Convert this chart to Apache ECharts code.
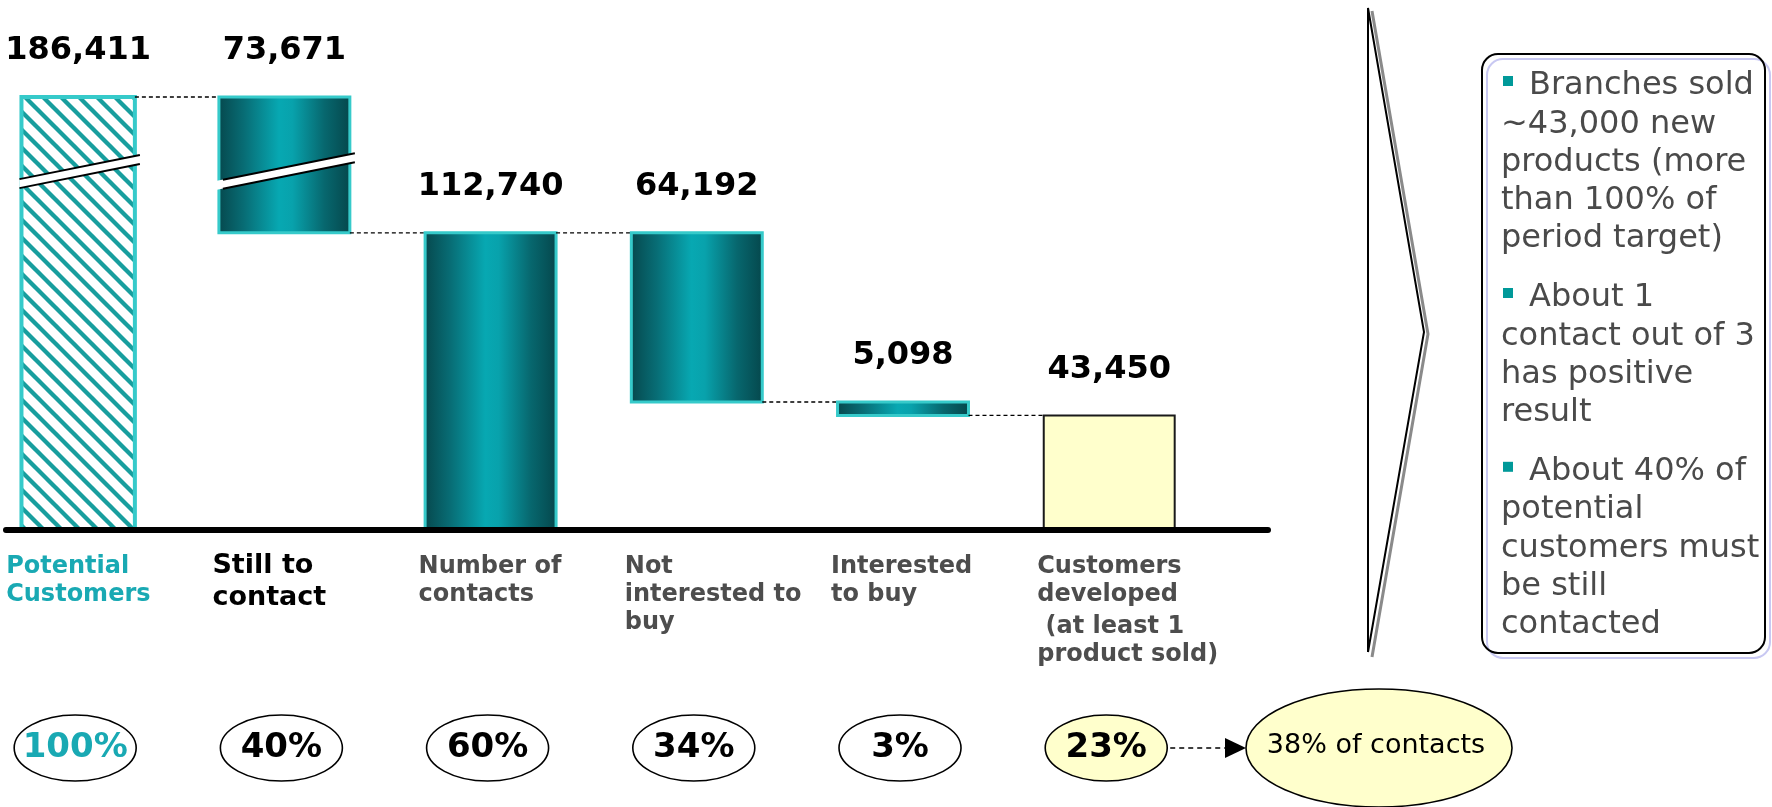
<!DOCTYPE html>
<html>
<head>
<meta charset="utf-8">
<script src="https://cdn.jsdelivr.net/npm/echarts@6/dist/echarts.min.js"></script>
<style>
  html, body { margin: 0; padding: 0; background: #ffffff; }
  #chart { width: 1772px; height: 807px; }
</style>
</head>
<body>
<div id="chart"></div>
<script>
// ---- data ----
const categories = ['Potential\nCustomers', 'Still to\ncontact', 'Number of\ncontacts',
                    'Not\ninterested to\nbuy', 'Interested\nto buy', 'Customers\ndeveloped'];
const categoryNotes = ['', '', '', '', '', ' (at least 1\nproduct sold)'];
const values = [186411, 73671, 112740, 64192, 5098, 43450];
// 'total' bars stand on the baseline, 'drop' bars hang from the previous level
const barKinds = ['total', 'drop', 'total', 'drop', 'drop', 'total'];
const shareLabels = ['100%', '40%', '60%', '34%', '3%', '23%'];
const contactShareLabel = '38% of contacts';
const noteParagraphs = [
  ['Branches sold', '~43,000 new', 'products (more', 'than 100% of', 'period target)'],
  ['About 1', 'contact out of 3', 'has positive', 'result'],
  ['About 40% of', 'potential', 'customers must', 'be still', 'contacted']
];
// value range hidden by the axis break
const axisBreak = { start: 134200, end: 159650 };

// ---- waterfall geometry from the values ----
const bases = [], tops = [];
let level = 0;
values.forEach((v, i) => {
  if (barKinds[i] === 'total') { bases.push(0); tops.push(v); level = v; }
  else { tops.push(level); bases.push(level - v); level = level - v; }
});
const barData = values.map((v, i) => [i, bases[i], tops[i]]);

// ---- look ----
const TEAL_EDGE = '#36caca';
const LABEL_GREY = '#4d4d4d';
const FONT = '"DejaVu Sans", Verdana, sans-serif';
const barLook = ['hatch', 'grad', 'grad', 'grad', 'grad', 'plain'];
const catLook = [
  { fill: '#19a9b3', size: 24, lh: 28, dy: 23 },
  { fill: '#000000', size: 27, lh: 32, dy: 20 },
  { fill: LABEL_GREY, size: 24, lh: 28, dy: 23 },
  { fill: LABEL_GREY, size: 24, lh: 28, dy: 23 },
  { fill: LABEL_GREY, size: 24, lh: 28, dy: 23 },
  { fill: LABEL_GREY, size: 24, lh: 28, dy: 23 }
];

function makeHatch() {
  const P = 18;
  const cv = document.createElement('canvas');
  cv.width = P; cv.height = P;
  const g = cv.getContext('2d');
  g.fillStyle = '#ffffff';
  g.fillRect(0, 0, P, P);
  g.strokeStyle = '#189e9e';
  g.lineWidth = 4.3;
  [-P, 0, P].forEach(c => {
    g.beginPath();
    g.moveTo(-3, -3 + c);
    g.lineTo(P + 3, P + 3 + c);
    g.stroke();
  });
  return cv;
}
const hatchPattern = { image: makeHatch(), repeat: 'repeat' };

function cylinderFill() {
  return new echarts.graphic.LinearGradient(0, 0, 1, 0, [
    { offset: 0, color: '#06474c' },
    { offset: 0.2, color: '#086d75' },
    { offset: 0.46, color: '#07a8b2' },
    { offset: 0.56, color: '#08a2ac' },
    { offset: 0.8, color: '#07676e' },
    { offset: 1, color: '#05464b' }
  ]);
}

const BAR_W = 0.635, FIRST_BAR_W = 0.55, BREAK_SLOPE = -0.2;

function barWidth(i, band) { return band * (i === 0 ? FIRST_BAR_W : BAR_W); }

function renderItem(params, api) {
  const i = params.dataIndex;
  const base = api.value(1), top = api.value(2);
  const pTop = api.coord([i, top]);
  const pBase = api.coord([i, base]);
  const cx = pTop[0];
  const band = api.size([1, 0])[0];
  const w = barWidth(i, band);
  const x0 = cx - w / 2;
  const baseY = api.coord([i, 0])[1];
  const children = [];

  // bar body
  let style;
  if (barLook[i] === 'hatch') style = { fill: hatchPattern, stroke: TEAL_EDGE, lineWidth: 4 };
  else if (barLook[i] === 'grad') style = { fill: cylinderFill(), stroke: TEAL_EDGE, lineWidth: 3 };
  else style = { fill: '#ffffcc', stroke: '#1a1a1a', lineWidth: 2 };
  children.push({ type: 'rect', shape: { x: x0, y: pTop[1], width: w, height: pBase[1] - pTop[1] }, style });

  // break mark where the bar crosses the hidden range
  if (base < axisBreak.start && top > axisBreak.end) {
    const yHi = api.coord([i, axisBreak.end])[1];
    const yLo = api.coord([i, axisBreak.start])[1];
    const mid = (yHi + yLo) / 2, half = 4.5;
    const xl = x0 - 2, xr = x0 + w + 5;
    const yAt = (x, off) => mid + off + BREAK_SLOPE * (x - cx);
    children.push({ type: 'polygon', shape: { points: [[xl, yAt(xl, -half)], [xr, yAt(xr, -half)], [xr, yAt(xr, half)], [xl, yAt(xl, half)]] },
      style: { fill: '#ffffff' } });
    const lx = i === 0 ? x0 - 2 : x0 + 4;
    [-half, half].forEach(off => children.push({ type: 'line',
      shape: { x1: lx, y1: yAt(lx, off), x2: xr, y2: yAt(xr, off) }, style: { stroke: '#000', lineWidth: 2 } }));
  }

  // value label
  children.push({ type: 'text', x: cx, y: pTop[1] - 46, style: {
    text: values[i].toLocaleString('en-US'), fill: '#000', font: 'bold 32px ' + FONT,
    align: 'center', verticalAlign: 'middle' } });

  // dashed connector to the next bar
  if (i < values.length - 1) {
    const nTop = api.coord([i + 1, tops[i + 1]]);
    const nLeft = nTop[0] - barWidth(i + 1, band) / 2;
    children.push({ type: 'line', shape: { x1: x0 + w, y1: nTop[1], x2: nLeft, y2: nTop[1] },
      style: { stroke: '#000', lineWidth: 1.3, lineDash: [4, 3] } });
  }

  // category name under the baseline
  const cl = catLook[i];
  children.push({ type: 'text', x: cx - 72, y: baseY + cl.dy, style: {
    text: categories[i], fill: cl.fill, font: 'bold ' + cl.size + 'px ' + FONT,
    lineHeight: cl.lh, align: 'left', verticalAlign: 'top' } });
  if (categoryNotes[i]) {
    children.push({ type: 'text', x: cx - 72, y: baseY + 83, style: {
      text: categoryNotes[i], fill: cl.fill, font: 'bold ' + cl.size + 'px ' + FONT,
      lineHeight: cl.lh, align: 'left', verticalAlign: 'top' } });
  }

  // share of potential customers
  const ey = baseY + 218, ex = cx - 3;
  const last = i === values.length - 1;
  children.push({ type: 'ellipse', shape: { cx: ex, cy: ey, rx: 61, ry: 33 },
    style: { fill: last ? '#ffffcc' : '#ffffff', stroke: '#000', lineWidth: 1.6 } });
  children.push({ type: 'text', x: ex, y: ey, style: {
    text: shareLabels[i], fill: i === 0 ? '#19a9b3' : '#000', font: 'bold 34px ' + FONT,
    align: 'center', verticalAlign: 'middle' } });

  if (last) {
    const ax0 = ex + 64, ax1 = 1246;
    children.push({ type: 'line', shape: { x1: ax0, y1: ey, x2: ax1 - 20, y2: ey },
      style: { stroke: '#000', lineWidth: 1.5, lineDash: [5, 4] } });
    children.push({ type: 'polygon', shape: { points: [[ax1 - 21, ey - 10], [ax1, ey], [ax1 - 21, ey + 10]] },
      style: { fill: '#000' } });
  }

  return { type: 'group', children };
}

// ---- side notes ----
const graphics = [];
graphics.push({ type: 'polyline', shape: { points: [[1372, 11], [1428, 334], [1372, 657]] },
  style: { stroke: '#8a8a8a', lineWidth: 3, fill: null }, z: 1 });
graphics.push({ type: 'polyline', shape: { points: [[1368, 652], [1368, 8], [1424, 332], [1368, 652]] },
  style: { stroke: '#000', lineWidth: 2, fill: null }, z: 2 });
graphics.push({ type: 'rect', shape: { x: 1487, y: 59, width: 283, height: 599, r: 16 },
  style: { stroke: '#c8c8f2', lineWidth: 2, fill: null }, z: 1 });
graphics.push({ type: 'rect', shape: { x: 1482, y: 54, width: 283, height: 599, r: 16 },
  style: { stroke: '#000', lineWidth: 2, fill: null }, z: 2 });
let baseline = 94;
noteParagraphs.forEach(lines => {
  graphics.push({ type: 'rect', shape: { x: 1503, y: baseline - 18, width: 10, height: 10 },
    style: { fill: '#009999' }, z: 3 });
  lines.forEach((t, k) => {
    graphics.push({ type: 'text', x: k === 0 ? 1529 : 1501, y: baseline - 8, z: 3,
      style: { text: t, fill: '#4a4a4a', font: '32px ' + FONT, align: 'left', verticalAlign: 'middle' } });
    baseline += 38.2;
  });
  baseline += 21;
});
graphics.push({ type: 'ellipse', shape: { cx: 1379, cy: 748, rx: 133, ry: 59 },
  style: { fill: '#ffffcc', stroke: '#000', lineWidth: 1.6 }, z: 2 });
graphics.push({ type: 'text', x: 1376, y: 746, z: 3,
  style: { text: contactShareLabel, fill: '#000', font: '27px ' + FONT, align: 'center', verticalAlign: 'middle' } });

const chart = echarts.init(document.getElementById('chart'), null, { renderer: 'canvas' });
chart.setOption({
  animation: false,
  backgroundColor: '#ffffff',
  grid: { left: 6, right: 504, top: 97, bottom: 277, containLabel: false },
  xAxis: {
    type: 'value', min: -0.35, max: 5.77, z: 10,
    axisLine: { show: true, onZero: true, lineStyle: { color: '#000', width: 6 } },
    axisTick: { show: false }, axisLabel: { show: false }, splitLine: { show: false }
  },
  yAxis: {
    type: 'value', min: 0, max: 186411,
    breaks: [{ start: axisBreak.start, end: axisBreak.end, gap: '2%' }],
    breakArea: { show: false },
    axisLine: { show: false }, axisTick: { show: false }, axisLabel: { show: false }, splitLine: { show: false }
  },
  series: [{
    type: 'custom', renderItem, data: barData, clip: false, z: 2, silent: true,
    encode: { x: 0, y: [1, 2] }
  }],
  graphic: { elements: graphics }
});
</script>
</body>
</html>
